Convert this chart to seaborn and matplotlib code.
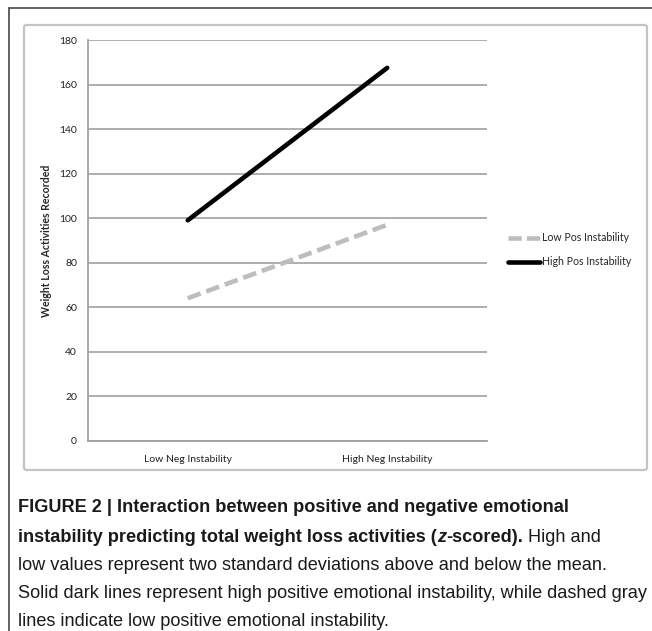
import numpy as np
import pandas as pd
import matplotlib
matplotlib.use('Agg')
import matplotlib.pyplot as plt
import seaborn as sns
from matplotlib.patches import FancyBboxPatch
from matplotlib.lines import Line2D

# values
neg_levels = ['Low Neg Instability', 'High Neg Instability']
low_pos = [64, 97]
high_pos = [99, 167.5]
series_names = ['Low Pos Instability', 'High Pos Instability']
y_ticks = [0, 20, 40, 60, 80, 100, 120, 140, 160, 180]

df = pd.DataFrame({
    'neg': neg_levels * 2,
    'value': low_pos + high_pos,
    'group': [series_names[0]] * 2 + [series_names[1]] * 2,
})

sns.set_style('white')
plt.rcParams['font.family'] = ['Lato', 'DejaVu Sans']

W, H = 652, 631
fig = plt.figure(figsize=(W / 100, H / 100), dpi=100)

def px(x0, y0, x1, y1):
    # pixel box -> figure fraction rect
    return [x0 / W, 1 - y1 / H, (x1 - x0) / W, (y1 - y0) / H]

# outer caption frame (top + left rule)
fig.add_artist(Line2D([9 / W, 1], [1 - 8 / H, 1 - 8 / H], color='#555555', lw=1.3, transform=fig.transFigure))
fig.add_artist(Line2D([9 / W, 9 / W], [1 - 8 / H, 0], color='#555555', lw=1.3, transform=fig.transFigure))

# chart box with rounded corners
box = FancyBboxPatch((24 / W, 1 - 470 / H), (647 - 24) / W, (470 - 25) / H,
                     boxstyle='round,pad=0,rounding_size=0.004',
                     transform=fig.transFigure, facecolor='none',
                     edgecolor='#c4c4c4', lw=1.6, zorder=-1)
fig.add_artist(box)

ax = fig.add_axes(px(88, 40, 487, 440.7))
ax.patch.set_alpha(0)

sns.lineplot(data=df, x='neg', y='value', hue='group', style='group',
             palette={series_names[0]: '#bdbdbd', series_names[1]: 'black'},
             dashes={series_names[0]: (3.0, 1.3), series_names[1]: ''},
             linewidth=3.3, legend=False, ax=ax, sort=False)

ax.set_xlim(-0.5, 1.5)
ax.set_ylim(0, 180)
ax.set_yticks(y_ticks)
ax.set_yticklabels([str(t) for t in y_ticks])
ax.yaxis.grid(True, color='#a8a8a8', lw=1.3)
ax.set_axisbelow(True)
for s in ['top', 'right']:
    ax.spines[s].set_visible(False)
for s in ['left', 'bottom']:
    ax.spines[s].set_color('#a0a0a0')
    ax.spines[s].set_linewidth(1.3)
ax.tick_params(axis='both', length=0, labelsize=7.5, colors='#222222')
ax.tick_params(axis='y', pad=8)
ax.tick_params(axis='x', pad=10)
ax.set_xlabel('')
ax.set_ylabel('Weight Loss Activities Recorded', fontsize=7.6, fontweight='bold', labelpad=5)

handles = [Line2D([], [], color='#bdbdbd', lw=3.3, dashes=(2.9, 1.1)),
           Line2D([], [], color='black', lw=3.3)]
fig.legend(handles, series_names, loc='upper left', bbox_to_anchor=(503 / W, 1 - 227 / H),
           frameon=False, fontsize=7.6, handlelength=3.0, handletextpad=0.2,
           labelspacing=1.25, borderpad=0)

# caption
cap_x = 18 / W
lines = [
    (507, [('FIGURE 2 | Interaction between positive and negative emotional', 'bold')]),
    (537, [('instability predicting total weight loss activities (', 'bold'),
           ('z', 'bolditalic'), ('-scored).', 'bold'), (' High and', 'normal')]),
    (565, [('low values represent two standard deviations above and below the mean.', 'normal')]),
    (593, [('Solid dark lines represent high positive emotional instability, while dashed gray', 'normal')]),
    (621, [('lines indicate low positive emotional instability.', 'normal')]),
]
fig.canvas.draw()
renderer = fig.canvas.get_renderer()
for y, parts in lines:
    x = cap_x
    for txt, wt in parts:
        kw = dict(fontsize=13.1, color='#1a1a1a', va='center', ha='left',
                  family=['Liberation Sans', 'DejaVu Sans'])
        if wt == 'bolditalic':
            kw.update(fontweight='bold', style='italic')
        else:
            kw.update(fontweight=wt)
        t = fig.text(x, 1 - y / H, txt, **kw)
        bb = t.get_window_extent(renderer=renderer)
        x += bb.width / W

fig.savefig('out.png', dpi=100)
